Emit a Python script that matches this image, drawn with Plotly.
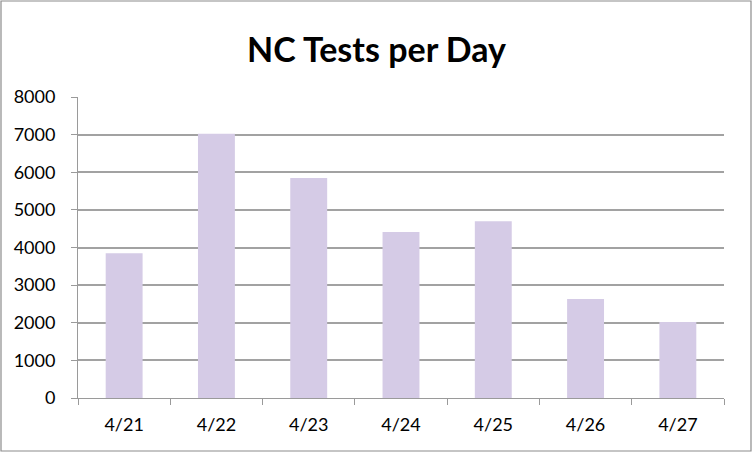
import plotly.graph_objects as go

dates = ["4/21", "4/22", "4/23", "4/24", "4/25", "4/26", "4/27"]
tests = [3850, 7020, 5850, 4410, 4700, 2630, 2020]
y_ticks = [0, 1000, 2000, 3000, 4000, 5000, 6000, 7000, 8000]

fig = go.Figure()
fig.add_trace(go.Bar(
    x=dates, y=tests,
    marker=dict(color="#d5cbe6", line=dict(width=0)),
))

L, R, T, B = 78, 29, 97, 55
W, H = 753, 453
pw, ph = W - L - R, H - T - B

fig.update_layout(
    width=W, height=H,
    margin=dict(l=L, r=R, t=T, b=B),
    paper_bgcolor="white", plot_bgcolor="white",
    bargap=0.6,
    showlegend=False,
    title=dict(text="<b>NC Tests per Day</b>", x=0.5, xanchor="center",
               y=1 - 50 / H, yanchor="middle",
               font=dict(family="Lato", size=34, color="black")),
    font=dict(family="Lato", size=18, color="black"),
    xaxis=dict(showline=True, linecolor="#9a9a9a", linewidth=1,
               ticks="outside", tickson="boundaries", ticklen=6, tickcolor="#9a9a9a",
               showgrid=False, tickfont=dict(size=18), ticklabelstandoff=10),
    yaxis=dict(range=[0, 8000], tickvals=y_ticks, showline=True, linecolor="#9a9a9a",
               linewidth=1, ticks="outside", ticklen=6, tickcolor="#9a9a9a",
               showgrid=True, gridcolor="#a2a2a2", gridwidth=1.5,
               zeroline=False, tickfont=dict(size=18), ticklabelstandoff=12),
)

# outer chart border
fig.add_shape(type="rect", xref="paper", yref="paper",
              x0=(1 - L) / pw, x1=(W - 2 - L) / pw,
              y0=-(B - 2) / ph, y1=1 + (T - 1) / ph,
              line=dict(color="#8c8c8c", width=1.2), fillcolor="rgba(0,0,0,0)")

fig.write_html("out.html", config={"displayModeBar": False},
               post_script="document.body.style.margin='0';document.body.style.overflow='hidden';")
